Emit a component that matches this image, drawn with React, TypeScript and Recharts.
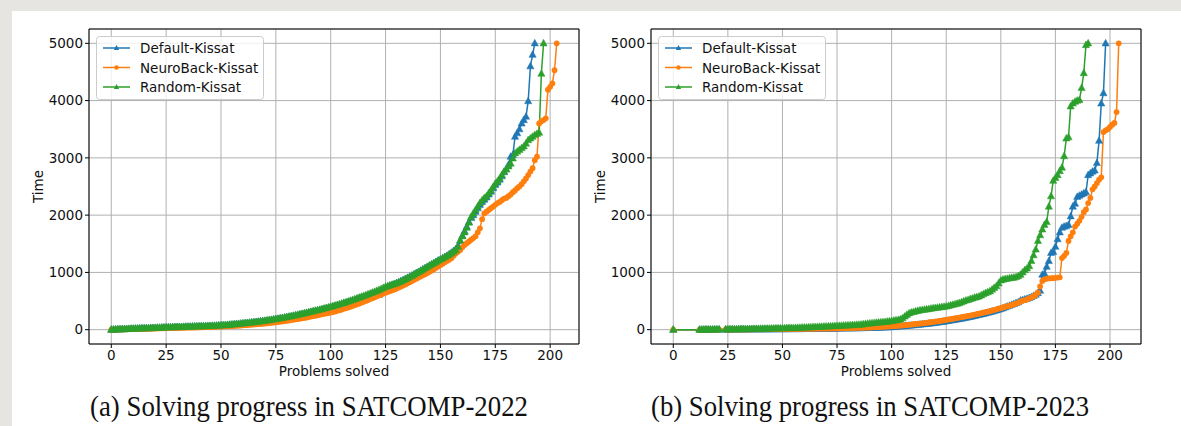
import React from "react";
import {
  LineChart,
  Line,
  XAxis,
  YAxis,
  CartesianGrid,
  Legend,
  ReferenceArea,
  Label,
} from "recharts";

const X_TICKS = [0, 25, 50, 75, 100, 125, 150, 175, 200];
const Y_TICKS = [0, 1000, 2000, 3000, 4000, 5000];
const SERIES_NAMES = ["Default-Kissat", "NeuroBack-Kissat", "Random-Kissat"];
const CAPTIONS = [
  "(a) Solving progress in SATCOMP-2022",
  "(b) Solving progress in SATCOMP-2023",
];

// time (s) per number of problems solved, index = problems solved
const DEFAULT_2022 = [
  0, 1, 3, 5, 7, 9, 10, 12, 13, 15,
  16, 18, 19, 21, 22, 24, 25, 26, 28, 29,
  30, 32, 33, 35, 37, 38, 40, 41, 43, 44,
  45, 46, 47, 49, 50, 51, 52, 54, 55, 56,
  57, 58, 60, 61, 62, 64, 65, 67, 69, 71,
  73, 76, 79, 82, 85, 88, 92, 96, 100, 104,
  108, 112, 116, 120, 124, 128, 133, 138, 143, 148,
  153, 158, 164, 170, 176, 182, 188, 195, 202, 209,
  216, 223, 231, 239, 247, 255, 263, 271, 280, 289,
  298, 307, 316, 325, 334, 343, 352, 362, 372, 382,
  392, 402, 413, 424, 435, 446, 458, 470, 482, 494,
  506, 519, 532, 545, 558, 571, 585, 598, 610, 622,
  630, 620, 610, 640, 675, 712, 745, 765, 782, 798,
  814, 830, 848, 866, 885, 905, 925, 945, 966, 988,
  1008, 1030, 1052, 1074, 1096, 1118, 1140, 1162, 1184, 1206,
  1226, 1246, 1268, 1292, 1318, 1345, 1375, 1410, 1460, 1550,
  1640, 1720, 1800, 1880, 1950, 2000, 2060, 2120, 2180, 2230,
  2270, 2310, 2360, 2410, 2470, 2530, 2570, 2620, 2680, 2750,
  2800, 2880, 3020, 3050, 3370, 3430, 3500, 3600, 3660, 3720,
  3990, 4600, 4800, 5000,
];

const NEUROBACK_2022 = [
  0, 1, 2, 3, 4, 5, 6, 7, 8, 9,
  10, 11, 12, 13, 14, 15, 16, 17, 18, 20,
  21, 22, 23, 24, 25, 26, 27, 28, 29, 30,
  31, 32, 33, 34, 35, 36, 37, 38, 39, 40,
  41, 42, 43, 44, 45, 46, 47, 48, 50, 52,
  54, 56, 58, 60, 62, 64, 66, 68, 70, 73,
  76, 79, 82, 85, 88, 91, 94, 97, 100, 104,
  108, 112, 116, 120, 125, 130, 135, 140, 145, 150,
  156, 162, 168, 174, 180, 186, 192, 199, 206, 213,
  220, 228, 236, 244, 252, 260, 268, 276, 283, 290,
  298, 308, 318, 329, 340, 352, 364, 376, 389, 402,
  415, 429, 443, 457, 472, 487, 502, 518, 534, 550,
  566, 582, 598, 614, 630, 646, 660, 674, 688, 702,
  718, 736, 754, 772, 790, 810, 830, 850, 870, 890,
  910, 930, 950, 970, 990, 1010, 1032, 1056, 1080, 1104,
  1128, 1152, 1176, 1200, 1222, 1248, 1290, 1330, 1360, 1390,
  1440, 1480, 1510, 1540, 1570, 1600, 1630, 1700, 1770, 1930,
  2030, 2060, 2090, 2120, 2150, 2180, 2210, 2230, 2260, 2290,
  2300, 2330, 2360, 2400, 2430, 2470, 2500, 2540, 2590, 2640,
  2700, 2760, 2820, 2960, 3020, 3600, 3640, 3660, 3690, 4190,
  4240, 4300, 4530, 5000,
];

const RANDOM_2022 = [
  0, 2, 4, 6, 8, 10, 11, 13, 14, 16,
  17, 19, 20, 22, 23, 25, 26, 27, 29, 30,
  31, 33, 34, 36, 38, 40, 41, 42, 44, 45,
  46, 47, 48, 50, 51, 52, 53, 55, 56, 57,
  58, 60, 61, 62, 63, 65, 66, 68, 70, 72,
  75, 78, 81, 84, 87, 90, 94, 98, 102, 106,
  110, 114, 118, 122, 126, 130, 135, 140, 145, 150,
  155, 161, 167, 173, 179, 186, 192, 199, 206, 213,
  220, 228, 236, 244, 252, 260, 268, 277, 286, 295,
  304, 313, 322, 331, 340, 350, 360, 370, 380, 390,
  400, 411, 422, 433, 445, 457, 469, 481, 494, 507,
  520, 533, 547, 561, 575, 589, 603, 618, 633, 648,
  663, 679, 695, 711, 730, 750, 762, 774, 786, 798,
  810, 825, 842, 860, 880, 900, 920, 940, 962, 984,
  1005, 1028, 1050, 1072, 1095, 1118, 1140, 1160, 1182, 1205,
  1225, 1245, 1266, 1288, 1312, 1336, 1362, 1395, 1450, 1560,
  1630, 1700, 1780, 1870, 1970, 2030, 2090, 2150, 2210, 2260,
  2300, 2330, 2380, 2430, 2490, 2550, 2590, 2640, 2700, 2760,
  2800, 2850, 2900, 2990, 3080, 3110, 3140, 3170, 3200, 3250,
  3310, 3340, 3370, 3400, 3420, 3440, 4470, 5000,
];

const DEFAULT_2023 = [
  0, null, null, null, null, null, null, null, null, null,
  null, null, 0, 0, 0, 1, 1, 1, 1, 1,
  2, 2, null, null, 2, 2, 3, 3, 3, 3,
  4, 4, 4, 4, 5, 5, 5, 5, 6, 6,
  6, 6, 7, 7, 7, 8, 8, 8, 8, 9,
  9, 9, 10, 10, 10, 11, 11, 11, 12, 12,
  13, 13, 14, 14, 15, 15, 16, 16, 17, 17,
  18, 18, 19, 19, 20, 20, 21, 21, 22, 22,
  23, 23, 24, 25, 26, 27, 28, 29, 30, 31,
  32, 33, 34, 35, 36, 37, 38, 40, 42, 44,
  46, 49, 52, 55, 58, 61, 64, 67, 70, 74,
  78, 82, 86, 90, 94, 98, 102, 106, 110, 115,
  120, 125, 130, 136, 142, 148, 154, 160, 166, 173,
  180, 187, 194, 201, 208, 216, 224, 232, 240, 249,
  258, 267, 276, 286, 296, 306, 316, 327, 338, 350,
  362, 375, 390, 405, 420, 435, 450, 465, 480, 510,
  520, 530, 540, 555, 570, 590, 610, 640, 680, 960,
  980, 1100, 1200, 1340, 1360, 1450, 1580, 1700, 1780, 1800,
  1810, 1830, 1980, 2150, 2200, 2320, 2340, 2360, 2380, 2400,
  2700, 2730, 2760, 2780, 2910, 3300, 3950, 4130, 5000,
];

const NEUROBACK_2023 = [
  0, null, null, null, null, null, null, null, null, null,
  null, null, 0, 0, 1, 1, 1, 1, 2, 2,
  2, 2, null, null, 3, 3, 3, 3, 4, 4,
  4, 4, 5, 5, 5, 5, 6, 6, 6, 7,
  7, 7, 8, 8, 8, 9, 9, 9, 10, 10,
  11, 11, 12, 12, 13, 13, 14, 14, 15, 15,
  16, 16, 17, 17, 18, 18, 19, 19, 20, 21,
  20, 21, 21, 22, 22, 23, 23, 24, 25, 26,
  27, 28, 29, 30, 31, 32, 33, 34, 35, 36,
  38, 40, 42, 44, 46, 48, 50, 52, 54, 56,
  58, 61, 64, 67, 70, 74, 78, 82, 86, 90,
  95, 99, 103, 107, 111, 115, 120, 125, 130, 135,
  140, 146, 152, 158, 165, 172, 178, 184, 191, 198,
  205, 212, 219, 226, 233, 240, 247, 255, 263, 271,
  280, 288, 297, 306, 315, 325, 335, 345, 356, 367,
  378, 388, 398, 409, 420, 431, 443, 456, 469, 494,
  505, 515, 530, 548, 565, 581, 610, 650, 755, 850,
  880, 890, 895, 900, 900, 905, 910, 915, 1250, 1290,
  1340, 1550, 1630, 1700, 1800, 1850, 1900, 1970, 2050, 2100,
  2210, 2300, 2450, 2500, 2560, 2620, 2660, 3450, 3480, 3500,
  3540, 3580, 3610, 3800, 5000,
];

const RANDOM_2023 = [
  0, null, null, null, null, null, null, null, null, null,
  null, null, 0, 1, 1, 2, 2, 3, 3, 4,
  4, 5, null, null, 6, 6, 7, 7, 8, 8,
  9, 10, 10, 11, 12, 13, 13, 14, 15, 16,
  17, 17, 18, 19, 20, 21, 22, 23, 24, 25,
  26, 27, 28, 29, 30, 30, 32, 33, 35, 36,
  38, 40, 41, 43, 45, 47, 49, 51, 53, 55,
  57, 58, 60, 62, 64, 66, 68, 70, 72, 74,
  76, 78, 80, 82, 84, 87, 90, 95, 100, 105,
  110, 114, 118, 122, 125, 128, 132, 136, 141, 146,
  150, 160, 165, 170, 180, 200, 230, 260, 285, 300,
  310, 320, 330, 338, 345, 350, 355, 360, 368, 375,
  380, 385, 390, 395, 400, 405, 415, 425, 435, 445,
  455, 465, 480, 495, 510, 520, 535, 545, 560, 570,
  580, 600, 620, 640, 655, 670, 700, 730, 760, 810,
  860, 875, 885, 890, 900, 905, 910, 920, 935, 960,
  1000, 1040, 1070, 1110, 1200, 1300, 1400, 1550, 1650, 1750,
  1830, 1880, 2150, 2330, 2600, 2650, 2700, 2770, 2830, 3030,
  3340, 3360, 3900, 3950, 3980, 4000, 4010, 4220, 4480, 4970,
  5000,
];

const BLUE = "#1f77b4";
const ORANGE = "#ff7f0e";
const GREEN = "#2ca02c";
const FONT = "'DejaVu Sans', sans-serif";

type Val = number | null;

function buildRows(def: Val[], neuro: Val[], rand: Val[]) {
  const n = Math.max(def.length, neuro.length, rand.length);
  return Array.from({ length: n }, (_, i) => ({
    x: i,
    def: def[i] ?? null,
    neuro: neuro[i] ?? null,
    rand: rand[i] ?? null,
  }));
}

const triangleDot = (color: string) => (props: any) => {
  const { cx, cy, index, value } = props;
  if (value == null || !Number.isFinite(cx) || !Number.isFinite(cy)) {
    return <g key={`t-${index}`} />;
  }
  return (
    <path
      key={`t-${index}`}
      d={`M${cx},${cy - 4}L${cx + 3.6},${cy + 2.6}L${cx - 3.6},${cy + 2.6}Z`}
      fill={color}
      stroke={color}
      strokeWidth={0.5}
    />
  );
};

const circleDot = (color: string) => (props: any) => {
  const { cx, cy, index, value } = props;
  if (value == null || !Number.isFinite(cx) || !Number.isFinite(cy)) {
    return <g key={`c-${index}`} />;
  }
  return <circle key={`c-${index}`} cx={cx} cy={cy} r={2.9} fill={color} />;
};

function LegendBox() {
  const rows = [
    { name: SERIES_NAMES[0], color: BLUE, kind: "tri" },
    { name: SERIES_NAMES[1], color: ORANGE, kind: "dot" },
    { name: SERIES_NAMES[2], color: GREEN, kind: "tri" },
  ];
  return (
    <svg width={168} height={64} style={{ display: "block" }}>
      <rect x={0.5} y={0.5} width={167} height={63} rx={3} fill="rgba(255,255,255,0.8)" stroke="#cccccc" />
      {rows.map((r, i) => {
        const cy = 12 + i * 19.5;
        return (
          <g key={r.name}>
            <line x1={7} x2={34} y1={cy} y2={cy} stroke={r.color} strokeWidth={1.5} />
            {r.kind === "tri" ? (
              <path d={`M20.5,${cy - 3}L23.2,${cy + 2}L17.8,${cy + 2}Z`} fill={r.color} />
            ) : (
              <circle cx={20.5} cy={cy} r={2.2} fill={r.color} />
            )}
            <text x={44} y={cy + 5} fontSize={13.5} fontFamily={FONT} fill="#111">
              {r.name}
            </text>
          </g>
        );
      })}
    </svg>
  );
}

function ProgressChart({ def, neuro, rand, left }: { def: Val[]; neuro: Val[]; rand: Val[]; left: number }) {
  const rows = buildRows(def, neuro, rand);
  const xMax = rows.length - 1;
  const xDomain = [-0.05 * xMax, 1.05 * xMax];
  const yDomain = [-250, 5250];
  const tickStyle = { fontSize: 13.5, fill: "#111", fontFamily: FONT };

  return (
    <div style={{ position: "absolute", left, top: 0 }}>
      <LineChart width={600} height={390} data={rows} margin={{ top: 29, right: 21, bottom: 16, left: 29 }}>
        <CartesianGrid stroke="#b0b0b0" strokeWidth={1} />
        <XAxis
          dataKey="x"
          type="number"
          domain={xDomain}
          ticks={X_TICKS}
          interval={0}
          allowDataOverflow
          axisLine={false}
          tickLine={{ stroke: "#000" }}
          tickSize={4}
          tickMargin={2}
          tick={tickStyle}
          height={30}
        >
          <Label
            content={({ viewBox }: any) => (
              <text
                x={viewBox.x + viewBox.width / 2}
                y={viewBox.y + 32}
                textAnchor="middle"
                fontSize={13.5}
                fontFamily={FONT}
                fill="#111"
              >
                Problems solved
              </text>
            )}
          />
        </XAxis>
        <YAxis
          type="number"
          domain={yDomain}
          ticks={Y_TICKS}
          interval={0}
          allowDataOverflow
          axisLine={false}
          tickLine={{ stroke: "#000" }}
          tickSize={4}
          tickMargin={2}
          tick={tickStyle}
          width={60}
        >
          <Label
            content={({ viewBox }: any) => {
              const x = viewBox.x + 14;
              const y = viewBox.y + viewBox.height / 2;
              return (
                <text
                  x={x}
                  y={y}
                  transform={`rotate(-90 ${x} ${y})`}
                  textAnchor="middle"
                  fontSize={13.5}
                  fontFamily={FONT}
                  fill="#111"
                >
                  Time
                </text>
              );
            }}
          />
        </YAxis>
        <ReferenceArea
          x1={xDomain[0]}
          x2={xDomain[1]}
          y1={yDomain[0]}
          y2={yDomain[1]}
          fill="none"
          stroke="#000"
          strokeWidth={1}
          ifOverflow="visible"
        />
        <Line
          type="linear"
          dataKey="def"
          name={SERIES_NAMES[0]}
          stroke={BLUE}
          strokeWidth={1.5}
          dot={triangleDot(BLUE)}
          activeDot={false}
          connectNulls
          isAnimationActive={false}
        />
        <Line
          type="linear"
          dataKey="neuro"
          name={SERIES_NAMES[1]}
          stroke={ORANGE}
          strokeWidth={1.5}
          dot={circleDot(ORANGE)}
          activeDot={false}
          connectNulls
          isAnimationActive={false}
        />
        <Line
          type="linear"
          dataKey="rand"
          name={SERIES_NAMES[2]}
          stroke={GREEN}
          strokeWidth={1.5}
          dot={triangleDot(GREEN)}
          activeDot={false}
          connectNulls
          isAnimationActive={false}
        />
        <Legend
          layout="horizontal"
          verticalAlign="middle"
          align="center"
          wrapperStyle={{ left: 96, top: 36, width: 168, height: 64 }}
          content={() => <LegendBox />}
        />
      </LineChart>
    </div>
  );
}

export default function App() {
  return (
    <div
      style={{
        position: "absolute",
        left: 0,
        top: 0,
        width: 1181,
        height: 426,
        background: "#e7e5e1",
        overflow: "hidden",
      }}
    >
      <div style={{ position: "absolute", left: 12, top: 11, right: 0, bottom: 0, background: "#fff" }} />
      <ProgressChart def={DEFAULT_2022} neuro={NEUROBACK_2022} rand={RANDOM_2022} left={0} />
      <ProgressChart def={DEFAULT_2023} neuro={NEUROBACK_2023} rand={RANDOM_2023} left={562} />
      <svg width={1181} height={426} style={{ position: "absolute", left: 0, top: 0, pointerEvents: "none" }}>
        <text
          x={309}
          y={416}
          textAnchor="middle"
          fontSize={30}
          fontFamily="'Liberation Serif', serif"
          fill="#111"
          textLength={438}
          lengthAdjust="spacingAndGlyphs"
        >
          {CAPTIONS[0]}
        </text>
        <text
          x={870}
          y={416}
          textAnchor="middle"
          fontSize={30}
          fontFamily="'Liberation Serif', serif"
          fill="#111"
          textLength={438}
          lengthAdjust="spacingAndGlyphs"
        >
          {CAPTIONS[1]}
        </text>
      </svg>
    </div>
  );
}
